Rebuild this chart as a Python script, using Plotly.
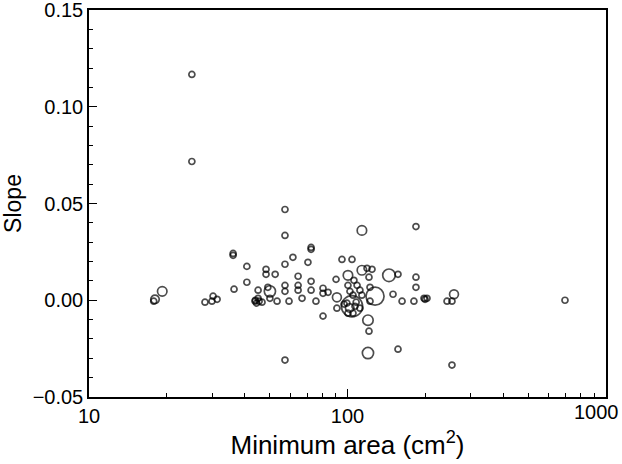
import plotly.graph_objects as go

# Minimum area (cm^2)
min_area = [17.8, 18.0, 19.2, 25.0, 25.0, 28.1, 29.9, 30.2, 31.3, 36.1,
            36.1, 36.4, 40.8, 40.8, 43.9, 44.5, 45.1, 45.1, 46.7, 48.4,
            48.4, 49.2, 50.1, 50.1, 52.5, 53.4, 57.3, 57.3, 57.3, 57.3,
            57.3, 59.4, 61.5, 64.4, 64.4, 64.4, 66.7, 70.3, 72.3, 72.3,
            72.3, 72.3, 75.5, 80.4, 80.4, 84.1, 80.4, 90.3, 91.0, 91.0,
            95.2, 104.1, 113.7, 100.4, 113.7, 119.0, 124.4, 121.1, 105.9, 108.9,
            100.4, 111.7, 122.2, 102.2, 105.0, 113.7, 99.5, 106.9, 111.7, 122.2,
            127.8, 104.1, 100.4, 105.0, 97.0, 102.0, 108.0, 120.0, 121.1, 120.0,
            144.7, 156.8, 150.0, 162.6, 184.0, 184.0, 184.0, 180.7, 197.7, 199.5,
            203.0, 242.7, 253.6, 258.2, 156.8, 57.3, 253.6, 694.0, 44.0, 45.5]

# Slope
slope = [-0.0005, 0.0005, 0.0046, 0.1167, 0.0717, -0.0010, -0.0005, 0.0021, 0.0005, 0.0242,
         0.0232, 0.0057, 0.0175, 0.0093, -0.0005, -0.0015, 0.0010, 0.0052, -0.0010, 0.0160,
         0.0134, 0.0067, 0.0046, 0.0010, 0.0134, -0.0005, 0.0469, 0.0335, 0.0186, 0.0077,
         0.0046, -0.0005, 0.0222, 0.0124, 0.0077, 0.0052, 0.0010, 0.0196, 0.0273, 0.0263,
         0.0098, 0.0052, -0.0005, 0.0062, 0.0036, 0.0041, -0.0082, 0.0108, 0.0015, -0.0041,
         0.0211, 0.0211, 0.0361, 0.0129, 0.0155, 0.0165, 0.0160, 0.0119, 0.0103, 0.0077,
         0.0077, 0.0052, 0.0067, 0.0046, 0.0026, 0.0026, -0.0015, -0.0031, -0.0041, -0.0005,
         0.0021, -0.0031, -0.0067, -0.0067, -0.0020, -0.0040, -0.0010, -0.0103, -0.0160, -0.0273,
         0.0129, 0.0134, 0.0031, -0.0005, 0.0381, 0.0119, 0.0067, -0.0005, 0.0010, 0.0005,
         0.0010, -0.0005, -0.0005, 0.0031, -0.0253, -0.0309, -0.0335, 0.0000, 0.0000, -0.0005]

# Relative weight (encoded by circle area)
weight = [1, 2, 2.5, 1, 1, 1, 1, 1, 1, 1,
          1, 1, 1, 1, 1, 1, 1, 1, 1, 1,
          1, 1, 3.5, 1, 1, 1, 1, 1, 1, 1,
          1, 1, 1, 1, 1, 1, 1, 1, 1, 1,
          1, 1, 1, 1, 1, 1, 1, 1, 2.2, 1,
          1, 1, 2.5, 2.5, 2.5, 1, 1, 1, 1, 1,
          1, 1, 1, 1, 1, 1, 1, 1, 1, 1,
          9, 12.5, 1, 1, 1, 2, 1, 3, 1, 3.5,
          4.4, 1, 1, 1, 1, 1, 1, 1, 1, 1,
          1, 1, 1, 2.2, 1, 1, 1, 1, 1, 1]

x_tickvals = [10, 100, 1000]
x_ticktext = ["10", "100", "1000"]
x_minor = [20, 30, 40, 50, 60, 70, 80, 90, 200, 300, 400, 500, 600, 700, 800, 900]
y_tickvals = [-0.05, 0.0, 0.05, 0.10, 0.15]
y_ticktext = ["\u22120.05", "0.00", "0.05", "0.10", "0.15"]

sizes = [6 * w ** 0.5 for w in weight]

fig = go.Figure(go.Scatter(
    x=min_area, y=slope, mode="markers",
    marker=dict(symbol="circle-open", size=sizes, color="black",
                line=dict(width=1.7)),
    hoverinfo="x+y",
    cliponaxis=False,
))

font = "Liberation Sans, Arial, Helvetica, sans-serif"
fig.update_layout(
    width=622, height=464,
    margin=dict(l=89, r=16, t=10, b=67),
    paper_bgcolor="white", plot_bgcolor="white",
    font=dict(family=font, color="black", size=20),
    showlegend=False,
)
# last x tick label (at the right border): right-aligned so it stays inside the page
fig.add_annotation(
    x=3, y=0, xref="x", yref="paper", text=x_ticktext[-1],
    xanchor="right", yanchor="top", xshift=15, yshift=-2,
    showarrow=False, font=dict(size=20, color="black"),
)
fig.update_xaxes(
    type="log", range=[1, 3], automargin=False, ticklabeloverflow="allow",
    tickmode="array", tickvals=x_tickvals[:-1], ticktext=x_ticktext[:-1],
    ticks="inside", ticklen=8, tickwidth=1.3, tickcolor="black",
    minor=dict(tickmode="array", tickvals=x_minor, ticks="inside",
               ticklen=4, tickwidth=1.3, tickcolor="black", showgrid=False),
    showline=True, linecolor="black", linewidth=1.5, mirror=True,
    showgrid=False, zeroline=False,
    tickfont=dict(size=20),
    title=dict(text="Minimum area (cm<sup>2</sup>)", font=dict(size=26), standoff=6),
)
fig.update_yaxes(
    range=[-0.05, 0.15], automargin=False, ticklabeloverflow="allow",
    tickmode="array", tickvals=y_tickvals, ticktext=y_ticktext,
    ticks="inside", ticklen=8, tickwidth=1.3, tickcolor="black",
    minor=dict(dtick=0.01, ticks="inside", ticklen=4, tickwidth=1.3,
               tickcolor="black", showgrid=False),
    showline=True, linecolor="black", linewidth=1.5, mirror=True,
    showgrid=False, zeroline=False,
    tickfont=dict(size=20),
    title=dict(text="Slope", font=dict(size=23), standoff=8),
)

fig.write_html("out.html", config={"displayModeBar": False},
               post_script="document.body.style.margin='0';")
